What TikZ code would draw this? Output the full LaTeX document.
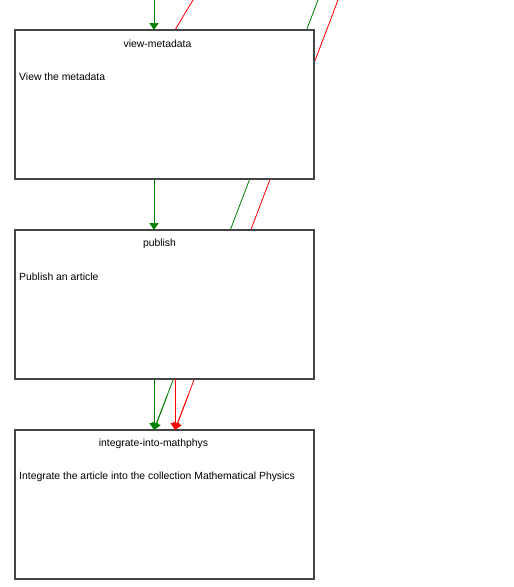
\documentclass[tikz,border=0pt]{standalone}
\usepackage{fontspec}
\setmainfont{Liberation Sans}
\usetikzlibrary{arrows.meta,calc}
\definecolor{boxgray}{RGB}{68,68,68}
\definecolor{flowgreen}{RGB}{0,128,0}
\definecolor{flowred}{RGB}{255,0,0}
\begin{document}
\begin{tikzpicture}[x=1pt,y=-1pt,
  box/.style={draw=boxgray,line width=1.6pt,fill=white,minimum width=299pt,minimum height=149pt,inner sep=0pt,outer sep=0pt},
  ttl/.style={font=\fontsize{10.4}{12}\selectfont,inner sep=0pt},
  desc/.style={font=\fontsize{10.4}{12}\selectfont,inner sep=0pt,anchor=west},
  garrow/.style={draw=flowgreen,line width=0.8pt,-{Triangle[width=9pt,length=7pt]}},
  rarrow/.style={draw=flowred,line width=0.8pt,-{Triangle[width=9pt,length=7pt]}},
  gline/.style={draw=flowgreen,line width=0.8pt},
  rline/.style={draw=flowred,line width=0.8pt}]
\useasboundingbox (0,0) rectangle (514,587);
\fill[white] (0,0) rectangle (514,587);
% free ends
\coordinate (gtop) at (154,0);
\coordinate (gdiag) at (318,0);
\coordinate (rdiag) at (338,0);
\coordinate (rshort) at (193,0);
\coordinate (gend) at (154,430);
\coordinate (rend) at (175,430);
\coordinate (rshortend) at (175,30);
% diagonals under boxes
\draw[gline] (gdiag) -- (gend);
\draw[rline] (rdiag) -- (rend);
\draw[rline] (rshort) -- (rshortend);
% boxes
\node[box] (vm) at (164.5,104.5) {};
\node[box] (pub) at (164.5,304.5) {};
\node[box] (int) at (164.5,504.5) {};
% texts
\node[ttl] (vmt) at (157.5,44) {view-metadata};
\node[desc] (vmd) at (19,76.5) {View the metadata};
\node[ttl] (pubt) at (159.5,244) {publish};
\node[desc] (pubd) at (19,276.5) {Publish an article};
\node[ttl] (intt) at (153.5,444) {integrate-into-mathphys};
\node[desc] (intd) at (19,476.5) {Integrate the article into the collection Mathematical Physics};
% arrows on top
\draw[garrow] (gtop) -- (gtop |- vm.north);
\draw[garrow] (vm.south -| gtop) -- (pub.north -| gtop);
\draw[garrow] (pub.south -| gtop) -- (int.north -| gtop);
\draw[rarrow] (pub.south -| rend) -- (int.north -| rend);
\draw[gline,-{Triangle[width=9pt,length=7pt]}] ($(gdiag)!0.92!(gend)$) -- (gend);
\draw[rline,-{Triangle[width=9pt,length=7pt]}] ($(rdiag)!0.92!(rend)$) -- (rend);
\end{tikzpicture}
\end{document}
